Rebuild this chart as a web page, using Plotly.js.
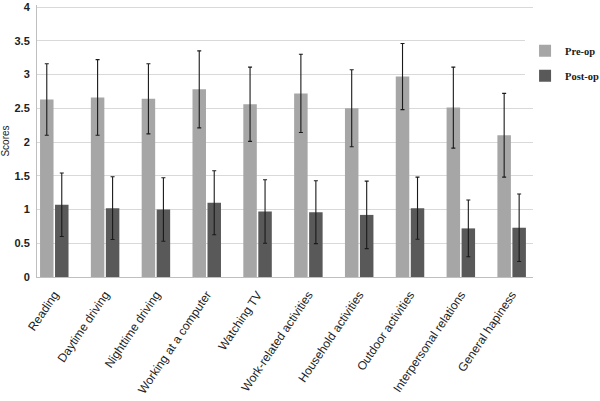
<!DOCTYPE html>
<html>
<head>
<meta charset="utf-8">
<script src="https://cdn.plot.ly/plotly-3.0.1.min.js"></script>
<style>html,body{margin:0;padding:0;background:#fff;}#chart{width:600px;height:401px;}</style>
</head>
<body>
<div id="chart"></div>
<script>
const categories = ["Reading","Daytime driving","Nighttime driving","Working at a computer","Watching TV","Work-related activities","Household activities","Outdoor activities","Interpersonal relations","General hapiness"];
const preOp = [2.63, 2.66, 2.64, 2.78, 2.56, 2.72, 2.50, 2.97, 2.51, 2.10];
const preOpSD = [0.53, 0.56, 0.52, 0.57, 0.55, 0.58, 0.57, 0.49, 0.60, 0.62];
const postOp = [1.07, 1.02, 1.00, 1.10, 0.97, 0.96, 0.92, 1.02, 0.72, 0.73];
const postOpSD = [0.47, 0.465, 0.47, 0.475, 0.47, 0.465, 0.50, 0.46, 0.42, 0.50];
const yTicks = [0, 0.5, 1, 1.5, 2, 2.5, 3, 3.5, 4];

const traces = [
  {type:'bar', name:'Pre-op', x:categories, y:preOp, legendgroup:'a',
   marker:{color:'#a6a6a6'},
   error_y:{type:'data', array:preOpSD, visible:true, color:'#1a1a1a', thickness:1.1, width:2}},
  {type:'bar', name:'Post-op', x:categories, y:postOp, legendgroup:'b',
   marker:{color:'#595959'},
   error_y:{type:'data', array:postOpSD, visible:true, color:'#1a1a1a', thickness:1.1, width:2}}
];

const layout = {
  width:600, height:401,
  margin:{l:37, r:67, t:5, b:124, autoexpand:false},
  paper_bgcolor:'#fff', plot_bgcolor:'#fff',
  barmode:'group', bargap:0.41, bargroupgap:0.1,
  showlegend:true,
  legend:{x:0.984, y:0.885, xanchor:'left', yanchor:'top', traceorder:'grouped', tracegroupgap:6,
          font:{family:'Liberation Serif, serif', size:10.5, color:'#1a1a1a', weight:'bold'}},
  xaxis:{type:'category', range:[-0.34, 9.42], automargin:false,
         tickangle:-56, ticklabelstandoff:5,
         tickfont:{family:'Liberation Sans, Arial, sans-serif', size:12, color:'#222'},
         showline:true, linecolor:'#bfbfbf', linewidth:1, ticks:'', showgrid:false},
  yaxis:{range:[0,4.03], tickvals:yTicks, ticktext:yTicks.map(String), automargin:false,
         ticklabelstandoff:4, ticklabeloverflow:'allow',
         tickfont:{family:'Liberation Sans, Arial, sans-serif', size:11, color:'#222', weight:'bold'},
         showgrid:true, gridcolor:'#d9d9d9', gridwidth:1, zeroline:false,
         showline:true, linecolor:'#bfbfbf', linewidth:1, ticks:'',
         title:{text:'Scores', font:{family:'Liberation Sans, Arial, sans-serif', size:10, color:'#222'}, standoff:6}}
};

Plotly.newPlot('chart', traces, layout, {displayModeBar:false, staticPlot:true});
</script>
</body>
</html>
